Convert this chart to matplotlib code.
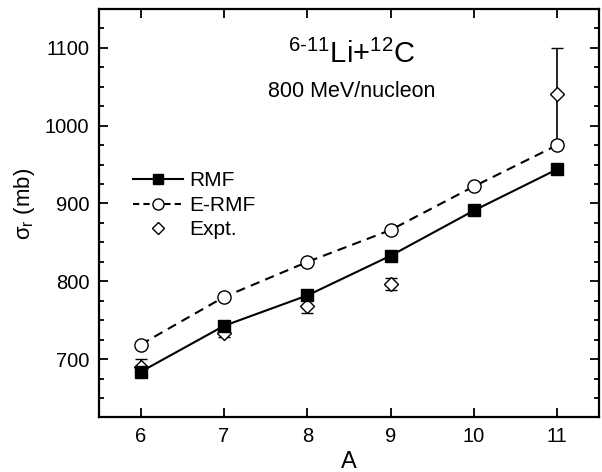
import matplotlib
matplotlib.use("Agg")
import matplotlib.pyplot as plt
from matplotlib.ticker import MultipleLocator
from matplotlib.lines import Line2D

plt.rcParams['font.family'] = ['Liberation Sans', 'DejaVu Sans']
plt.rcParams['mathtext.fontset'] = 'custom'
plt.rcParams['mathtext.rm'] = 'Liberation Sans'
plt.rcParams['mathtext.it'] = 'Liberation Sans:italic'
plt.rcParams['mathtext.sf'] = 'Liberation Sans'

A = [6, 7, 8, 9, 10, 11]
rmf = [684, 743, 782, 833, 891, 944]
ermf = [719, 780, 825, 866, 922, 975]
A_exp = [6, 7, 8, 9, 11]
expt = [690, 734, 768, 797, 1040]
expt_err = [10, 5, 9, 8, 60]

fig = plt.figure(figsize=(6.02, 4.72), dpi=100)
ax = fig.add_axes([0.1645, 0.1165, 0.8305, 0.8635])

ax.errorbar(A_exp, expt, yerr=expt_err, fmt='D', color='black', mfc='white', mec='black',
            ms=7.5, mew=1.0, elinewidth=1.2, capsize=4, capthick=1.2, zorder=2)
ax.plot(A, rmf, '-s', color='black', mfc='black', ms=8.5, lw=1.5, zorder=3)
ax.plot(A, ermf, '--o', color='black', mfc='white', ms=9.5, mew=1.0, lw=1.5,
        dashes=(4.5, 3), zorder=3)

ax.set_xlim(5.5, 11.5)
ax.set_ylim(626, 1149)
ax.xaxis.set_major_locator(MultipleLocator(1))
ax.yaxis.set_major_locator(MultipleLocator(100))
ax.yaxis.set_minor_locator(MultipleLocator(25))
ax.tick_params(which='both', direction='in', top=True, right=True, labelsize=14.5, width=1.3)
ax.tick_params(which='major', length=6.5, pad=7)
ax.tick_params(which='minor', length=3.5)
ax.tick_params(axis='x', which='minor', bottom=False, top=False)
for s in ax.spines.values():
    s.set_linewidth(1.6)

ax.set_xlabel('A', fontsize=17, labelpad=4)
ax.set_ylabel('σ$_\\mathregular{r}$ (mb)', fontsize=16)
ax.yaxis.set_label_coords(-0.124, 0.523)

ax.text(0.506, 0.869, r'$\mathregular{^{6\text{-}11}}$Li+$\mathregular{^{12}}$C', transform=ax.transAxes,
        ha='center', va='baseline', fontsize=21)
ax.text(0.506, 0.785, '800 MeV/nucleon', transform=ax.transAxes,
        ha='center', va='baseline', fontsize=15.5)

h1 = Line2D([], [], color='black', marker='s', mfc='black', ms=7, lw=1.5)
h2 = Line2D([], [], color='black', marker='o', mfc='white', ms=8, lw=1.5, ls='--', dashes=(3, 2))
h3 = Line2D([], [], color='black', marker='D', mfc='white', ms=6.5, lw=0, mew=1.0)
ax.legend([h1, h2, h3], ['RMF', 'E-RMF', 'Expt.'], loc='upper left',
          bbox_to_anchor=(0.067, 0.603), frameon=False, fontsize=15,
          handlelength=2.4, handletextpad=0.3, labelspacing=0.27, borderaxespad=0, borderpad=0)

fig.savefig('out.png', dpi=100)
